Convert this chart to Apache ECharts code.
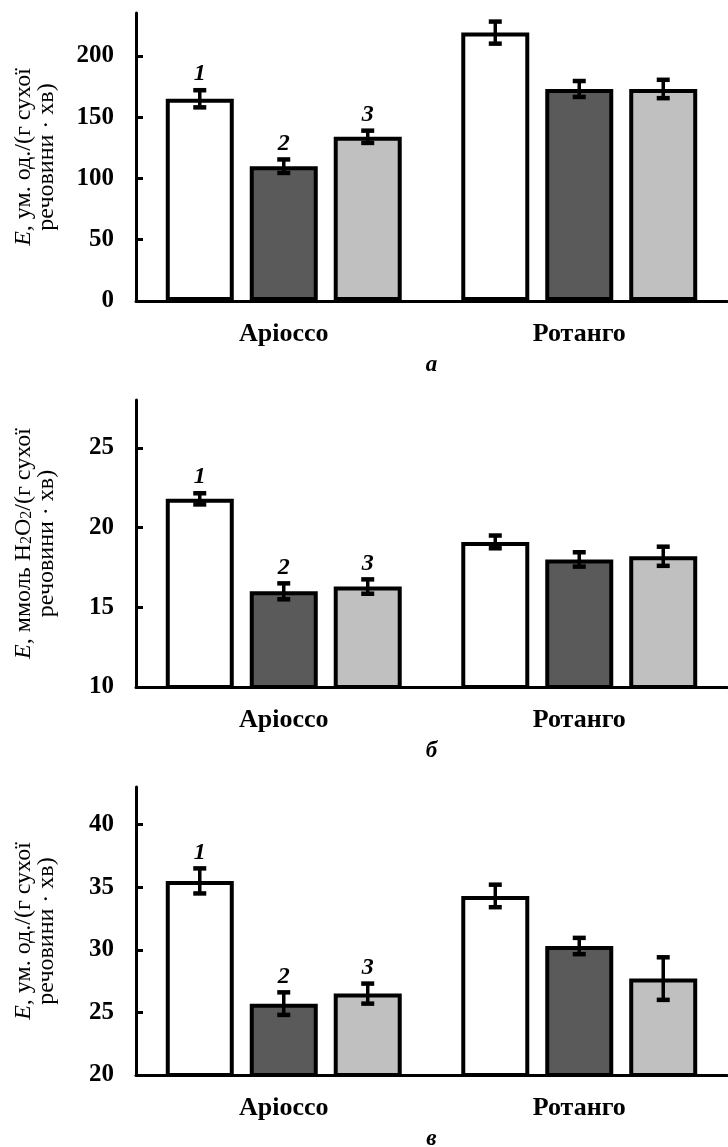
<!DOCTYPE html>
<html>
<head>
<meta charset="utf-8">
<script src="https://cdn.jsdelivr.net/npm/echarts@6/dist/echarts.min.js"></script>
<style>
  html, body { margin: 0; padding: 0; background: #fff; }
  #main { width: 728px; height: 1147px; }
</style>
</head>
<body>
<div id="main"></div>
<script>
const categories = ['Аріоссо', 'Ротанго']
const seriesNums = ['1', '2', '3']

// panel а
const meanA = [[165, 219], [110, 173], [134, 173]]
const errA = [[7, 9], [5.5, 6.5], [5, 7.5]]
const ticksA = [0, 50, 100, 150, 200]

// panel б
const meanB = [[21.8, 19.1], [16.0, 18.0], [16.3, 18.2]]
const errB = [[0.35, 0.4], [0.5, 0.45], [0.45, 0.6]]
const ticksB = [10, 15, 20, 25]

// panel в
const meanC = [[35.5, 34.3], [25.7, 30.3], [26.5, 27.7]]
const errC = [[1.0, 0.9], [0.9, 0.65], [0.8, 1.7]]
const ticksC = [20, 25, 30, 35, 40]

const barColors = ['#ffffff', '#5a5a5a', '#c0c0c0']
const BAR_W = 68
const BAR_GAP = 0.235
const SERIF = '"Liberation Serif", "Times New Roman", serif'

const panels = [
  { mean: meanA, err: errA, ticks: ticksA, min: 0, max: 235, top: 13, height: 288, letter: 'а',
    title: '{i|E}, ум. од./(г сухої\nречовини · хв)' },
  { mean: meanB, err: errB, ticks: ticksB, min: 10, max: 28, top: 400, height: 287, letter: 'б',
    title: '{i|E}, ммоль H{s|2}O{s|2}/(г сухої\nречовини · хв)' },
  { mean: meanC, err: errC, ticks: ticksC, min: 20, max: 43, top: 787, height: 288, letter: 'в',
    title: '{i|E}, ум. од./(г сухої\nречовини · хв)' },
]

function renderErr(params, api) {
  const cat = api.value(0)
  const s = api.value(1)
  const m = api.value(2)
  const e = api.value(3)
  const cx = api.coord([cat, m])[0] + (s - 1) * BAR_W * (1 + BAR_GAP)
  const yTop = api.coord([cat, m + e])[1]
  const yBot = api.coord([cat, m - e])[1]
  const stem = { stroke: '#000', lineWidth: 3.5 }
  const cap = { stroke: '#000', lineWidth: 4.5 }
  const children = [
    { type: 'line', shape: { x1: cx, y1: yTop, x2: cx, y2: yBot }, style: stem },
    { type: 'line', shape: { x1: cx - 6.5, y1: yTop, x2: cx + 6.5, y2: yTop }, style: cap },
    { type: 'line', shape: { x1: cx - 6.5, y1: yBot, x2: cx + 6.5, y2: yBot }, style: cap },
  ]
  if (cat === 0) {
    children.push({
      type: 'text',
      style: {
        text: seriesNums[s], x: cx, y: yTop - 4, align: 'center', verticalAlign: 'bottom',
        font: 'italic bold 24px ' + SERIF, fill: '#000',
      },
    })
  }
  return { type: 'group', children }
}

const grid = [], xAxis = [], yAxis = [], series = []
panels.forEach((p, i) => {
  grid.push({ left: 136, top: p.top, width: 591, height: p.height, outerBoundsMode: 'none', containLabel: false })
  xAxis.push({
    type: 'category',
    gridIndex: i,
    data: categories,
    name: p.letter,
    nameLocation: 'middle',
    nameGap: 53,
    nameTextStyle: { fontFamily: SERIF, fontSize: 23, fontWeight: 'bold', fontStyle: 'italic', color: '#000' },
    axisLine: { lineStyle: { color: '#000', width: 3 } },
    axisTick: { inside: true, length: 7, lineStyle: { color: '#000', width: 3 } },
    axisLabel: { margin: 20, fontFamily: SERIF, fontSize: 26, fontWeight: 'bold', color: '#000' },
    splitLine: { show: false },
  })
  yAxis.push({
    type: 'value',
    gridIndex: i,
    min: p.min,
    max: p.max,
    name: p.title,
    nameLocation: 'middle',
    nameRotate: 90,
    nameGap: 78,
    nameTextStyle: {
      fontFamily: SERIF, fontSize: 24, lineHeight: 23, color: '#000', align: 'center',
      rich: {
        i: { fontFamily: SERIF, fontSize: 24, lineHeight: 23, fontStyle: 'italic', color: '#000' },
        s: { fontFamily: SERIF, fontSize: 16, lineHeight: 10, verticalAlign: 'bottom', color: '#000' },
      },
    },
    axisLine: { show: true, lineStyle: { color: '#000', width: 3 } },
    axisTick: { show: true, inside: true, length: 7, customValues: p.ticks, lineStyle: { color: '#000', width: 3 } },
    axisLabel: { margin: 22, customValues: p.ticks, fontFamily: SERIF, fontSize: 25, fontWeight: 'bold', color: '#000' },
    splitLine: { show: false },
  })
  p.mean.forEach((vals, s) => {
    series.push({
      type: 'bar',
      xAxisIndex: i,
      yAxisIndex: i,
      data: vals,
      barWidth: BAR_W,
      barGap: (BAR_GAP * 100) + '%',
      itemStyle: { color: barColors[s], borderColor: '#000', borderWidth: 4 },
      emphasis: { disabled: true },
      animation: false,
    })
  })
  const rows = []
  p.mean.forEach((vals, s) => {
    vals.forEach((v, c) => rows.push([c, s, v, p.err[s][c]]))
  })
  series.push({
    type: 'custom',
    xAxisIndex: i,
    yAxisIndex: i,
    data: rows,
    encode: { x: 0, y: 2 },
    renderItem: renderErr,
    clip: false,
    z: 10,
    animation: false,
  })
})

const chart = echarts.init(document.getElementById('main'))
chart.setOption({
  animation: false,
  backgroundColor: '#fff',
  grid,
  xAxis,
  yAxis,
  series,
})
</script>
</body>
</html>
